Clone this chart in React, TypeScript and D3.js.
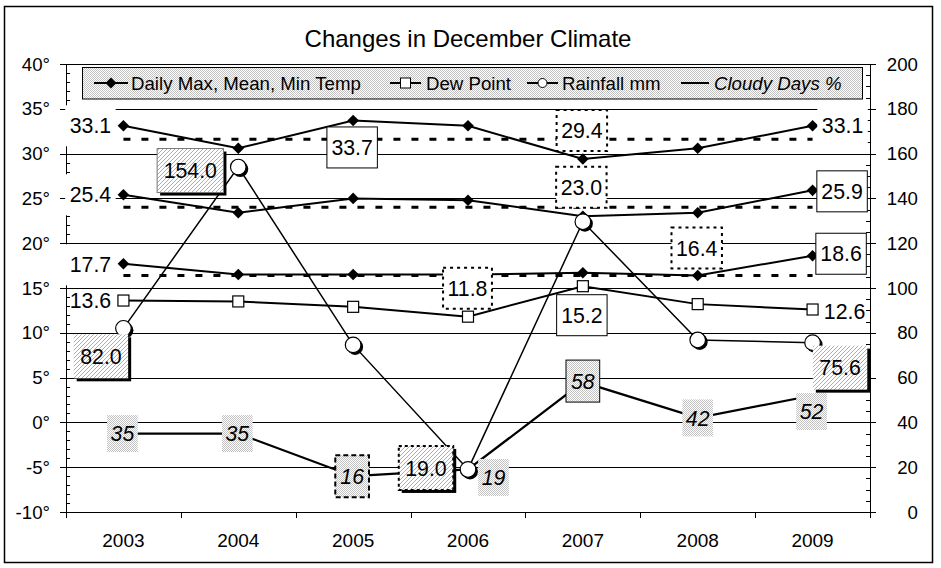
import React, { useEffect, useRef } from 'react';
import * as d3 from 'd3';

const years = ['2003', '2004', '2005', '2006', '2007', '2008', '2009'];
const maxTemp = [33.1, 30.6, 33.7, 33.1, 29.4, 30.6, 33.1];
const meanTemp = [25.4, 23.4, 25.0, 24.8, 23.0, 23.4, 25.9];
const minTemp = [17.7, 16.5, 16.5, 16.5, 16.7, 16.4, 18.6];
const dewPoint = [13.6, 13.5, 12.9, 11.8, 15.2, 13.2, 12.6];
const rainfall = [82.0, 154.0, 74.6, 19.0, 129.6, 76.8, 75.6];
const cloudyDays = [35, 35, 16, 19, 58, 42, 52];
const tempNormals = [31.6, 24.0, 16.4];

const tempTicks = [40, 35, 30, 25, 20, 15, 10, 5, 0, -5, -10];
const rightTicks = [200, 180, 160, 140, 120, 100, 80, 60, 40, 20, 0];
const legendNames = ['Daily Max, Mean, Min Temp', 'Dew Point', 'Rainfall mm', 'Cloudy Days %'];
const title = 'Changes in December Climate';

type Kind =
  | 'plain'
  | 'none'
  | 'solid'
  | 'dotted'
  | 'hatch'
  | 'hatchFramed'
  | 'hatchDotted'
  | 'gray'
  | 'grayDashed'
  | 'graySolid';

interface LabelSpec {
  s: 'max' | 'mean' | 'min' | 'dew' | 'rain' | 'cloudy';
  i: number;
  dx: number;
  dy: number;
  kind: Kind;
}

// where each data label sits relative to its point, and how it is boxed
const labelSpecs: LabelSpec[] = [
  { s: 'max', i: 0, dx: -33, dy: 0, kind: 'plain' },
  { s: 'max', i: 2, dx: -1, dy: 27, kind: 'solid' },
  { s: 'max', i: 4, dx: -1, dy: -28.5, kind: 'dotted' },
  { s: 'max', i: 6, dx: 30, dy: 0, kind: 'plain' },
  { s: 'mean', i: 0, dx: -33, dy: 0, kind: 'plain' },
  { s: 'mean', i: 4, dx: -1.5, dy: -29, kind: 'dotted' },
  { s: 'mean', i: 6, dx: 29.5, dy: 1, kind: 'solid' },
  { s: 'min', i: 0, dx: -33, dy: 1, kind: 'plain' },
  { s: 'min', i: 5, dx: -1, dy: -27.5, kind: 'dotted' },
  { s: 'min', i: 6, dx: 28.5, dy: -2, kind: 'solid' },
  { s: 'dew', i: 0, dx: -33, dy: 0, kind: 'none' },
  { s: 'dew', i: 3, dx: -0.5, dy: -28.5, kind: 'dotted' },
  { s: 'dew', i: 4, dx: -1, dy: 29, kind: 'solid' },
  { s: 'dew', i: 6, dx: 32, dy: 2, kind: 'none' },
  { s: 'rain', i: 0, dx: -22.5, dy: 28, kind: 'hatch' },
  { s: 'rain', i: 1, dx: -48, dy: 3.5, kind: 'hatchFramed' },
  { s: 'rain', i: 3, dx: -42, dy: -1.5, kind: 'hatchDotted' },
  { s: 'rain', i: 6, dx: 27.5, dy: 25, kind: 'hatch' },
  { s: 'cloudy', i: 0, dx: -1, dy: 0, kind: 'gray' },
  { s: 'cloudy', i: 1, dx: -1, dy: 0, kind: 'gray' },
  { s: 'cloudy', i: 2, dx: -1, dy: 0, kind: 'grayDashed' },
  { s: 'cloudy', i: 3, dx: 25.5, dy: 8, kind: 'gray' },
  { s: 'cloudy', i: 4, dx: 0, dy: -1, kind: 'graySolid' },
  { s: 'cloudy', i: 5, dx: 0, dy: 0, kind: 'gray' },
  { s: 'cloudy', i: 6, dx: -1, dy: 16, kind: 'gray' },
];

const FONT = '"Liberation Sans", Arial, sans-serif';

const App: React.FC = () => {
  const ref = useRef<SVGSVGElement>(null);

  useEffect(() => {
    const width = 941;
    const height = 568;
    const marginLeft = 66;
    const marginRight = 870;
    const marginTop = 64;
    const marginBottom = 512;

    const svg = d3.select(ref.current).attr('width', width).attr('height', height);
    svg.selectAll('*').remove();

    const defs = svg.append('defs');
    const stipple = defs
      .append('pattern')
      .attr('id', 'stipple')
      .attr('patternUnits', 'userSpaceOnUse')
      .attr('width', 2)
      .attr('height', 2);
    stipple.append('rect').attr('width', 2).attr('height', 2).attr('fill', '#fff');
    stipple
      .append('rect')
      .attr('width', 1)
      .attr('height', 1)
      .attr('fill', '#c2c2c2')
      .attr('shape-rendering', 'crispEdges');
    stipple
      .append('rect')
      .attr('x', 1)
      .attr('y', 1)
      .attr('width', 1)
      .attr('height', 1)
      .attr('fill', '#c2c2c2')
      .attr('shape-rendering', 'crispEdges');

    const hatch = defs
      .append('pattern')
      .attr('id', 'hatch')
      .attr('patternUnits', 'userSpaceOnUse')
      .attr('width', 4)
      .attr('height', 4);
    hatch.append('rect').attr('width', 4).attr('height', 4).attr('fill', '#fff');
    hatch
      .append('path')
      .attr('d', 'M0,4 L4,0 M-1,1 L1,-1 M3,5 L5,3')
      .attr('stroke', '#999')
      .attr('stroke-width', 0.8);

    // Scales
    const x = d3.scaleBand<string>().domain(years).range([marginLeft, marginRight]);
    const cx = (i: number) => x(years[i])! + x.bandwidth() / 2;
    const yL = d3.scaleLinear().domain([-10, 40]).range([marginBottom, marginTop]);
    const yR = d3.scaleLinear().domain([0, 200]).range([marginBottom, marginTop]);

    // outer frame
    svg
      .append('rect')
      .attr('x', 4.5)
      .attr('y', 6.5)
      .attr('width', 928)
      .attr('height', 556)
      .attr('fill', '#fff')
      .attr('stroke', '#000')
      .attr('stroke-width', 1.5);

    // gridlines
    svg
      .append('g')
      .selectAll('line')
      .data(tempTicks.filter((t) => t > -10))
      .join('line')
      .attr('x1', marginLeft)
      .attr('x2', marginRight)
      .attr('y1', (d) => Math.round(yL(d)) + 0.5)
      .attr('y2', (d) => Math.round(yL(d)) + 0.5)
      .attr('stroke', '#000')
      .attr('stroke-width', 1);

    // left axis
    const leftAxis = svg.append('g').attr('stroke', '#000').attr('stroke-width', 1);
    leftAxis
      .append('line')
      .attr('x1', marginLeft + 0.5)
      .attr('x2', marginLeft + 0.5)
      .attr('y1', marginTop)
      .attr('y2', marginBottom + 0.5);
    leftAxis
      .selectAll('.major')
      .data(tempTicks)
      .join('line')
      .attr('x1', marginLeft - 6)
      .attr('x2', marginLeft)
      .attr('y1', (d) => Math.round(yL(d)) + 0.5)
      .attr('y2', (d) => Math.round(yL(d)) + 0.5);
    leftAxis
      .selectAll('.minor')
      .data(d3.range(-10, 41))
      .join('line')
      .attr('x1', marginLeft)
      .attr('x2', marginLeft + 4)
      .attr('y1', (d) => Math.round(yL(d)) + 0.5)
      .attr('y2', (d) => Math.round(yL(d)) + 0.5);

    svg
      .append('g')
      .selectAll('text')
      .data(tempTicks)
      .join('text')
      .attr('x', 50)
      .attr('y', (d) => yL(d))
      .attr('dy', '0.35em')
      .attr('text-anchor', 'end')
      .attr('font-family', FONT)
      .attr('font-size', 18.67)
      .text((d) => `${d}°`);

    // right axis
    const rightAxis = svg.append('g').attr('stroke', '#000').attr('stroke-width', 1);
    rightAxis
      .append('line')
      .attr('x1', marginRight + 0.5)
      .attr('x2', marginRight + 0.5)
      .attr('y1', marginTop)
      .attr('y2', marginBottom + 0.5);
    rightAxis
      .selectAll('.major')
      .data(rightTicks)
      .join('line')
      .attr('x1', marginRight)
      .attr('x2', marginRight + 6)
      .attr('y1', (d) => Math.round(yR(d)) + 0.5)
      .attr('y2', (d) => Math.round(yR(d)) + 0.5);
    rightAxis
      .selectAll('.minor')
      .data(d3.range(0, 201, 5))
      .join('line')
      .attr('x1', marginRight - 4)
      .attr('x2', marginRight)
      .attr('y1', (d) => Math.round(yR(d)) + 0.5)
      .attr('y2', (d) => Math.round(yR(d)) + 0.5);

    svg
      .append('g')
      .selectAll('text')
      .data(rightTicks)
      .join('text')
      .attr('x', 918)
      .attr('y', (d) => yR(d))
      .attr('dy', '0.35em')
      .attr('text-anchor', 'end')
      .attr('font-family', FONT)
      .attr('font-size', 18.67)
      .text((d) => `${d}`);

    // bottom axis
    const bottom = svg.append('g').attr('stroke', '#000').attr('stroke-width', 1);
    bottom
      .append('line')
      .attr('x1', marginLeft)
      .attr('x2', marginRight + 1)
      .attr('y1', marginBottom + 0.5)
      .attr('y2', marginBottom + 0.5);
    bottom
      .selectAll('.tick')
      .data(d3.range(years.length + 1))
      .join('line')
      .attr('x1', (i) => Math.round(marginLeft + i * x.bandwidth()) + 0.5)
      .attr('x2', (i) => Math.round(marginLeft + i * x.bandwidth()) + 0.5)
      .attr('y1', marginBottom)
      .attr('y2', marginBottom + 6);

    svg
      .append('g')
      .selectAll('text')
      .data(years)
      .join('text')
      .attr('x', (_d, i) => cx(i))
      .attr('y', 547)
      .attr('text-anchor', 'middle')
      .attr('font-family', FONT)
      .attr('font-size', 19)
      .text((d) => d);

    // long-term reference lines for max / mean / min
    svg
      .append('g')
      .selectAll('line')
      .data(tempNormals)
      .join('line')
      .attr('x1', cx(0))
      .attr('x2', cx(years.length - 1))
      .attr('y1', (d) => yL(d))
      .attr('y2', (d) => yL(d))
      .attr('stroke', '#000')
      .attr('stroke-width', 3)
      .attr('stroke-dasharray', '7 11');

    const lineL = d3
      .line<number>()
      .x((_d, i) => cx(i))
      .y((d) => yL(d));
    const lineR = d3
      .line<number>()
      .x((_d, i) => cx(i))
      .y((d) => yR(d));

    const lines = svg.append('g').attr('fill', 'none').attr('stroke', '#000');
    lines.append('path').attr('d', lineR(cloudyDays)).attr('stroke-width', 2.2);
    lines.append('path').attr('d', lineR(rainfall)).attr('stroke-width', 1.5);
    [maxTemp, meanTemp, minTemp].forEach((s) => {
      lines.append('path').attr('d', lineL(s)).attr('stroke-width', 2);
    });
    lines.append('path').attr('d', lineL(dewPoint)).attr('stroke-width', 2);

    // markers
    const diamond = (r: number) => `M0,${-r}L${r},0L0,${r}L${-r},0Z`;
    const markers = svg.append('g');
    [maxTemp, meanTemp, minTemp].forEach((s) => {
      markers
        .append('g')
        .selectAll('path')
        .data(s)
        .join('path')
        .attr('transform', (d, i) => `translate(${cx(i)},${yL(d)})`)
        .attr('d', diamond(5.8))
        .attr('fill', '#000');
    });
    markers
      .append('g')
      .selectAll('rect')
      .data(dewPoint)
      .join('rect')
      .attr('x', (_d, i) => cx(i) - 5.5)
      .attr('y', (d) => yL(d) - 5.5)
      .attr('width', 11)
      .attr('height', 11)
      .attr('fill', '#fff')
      .attr('stroke', '#000')
      .attr('stroke-width', 1.2);
    const rainG = markers.append('g');
    rainG
      .selectAll('.shadow')
      .data(rainfall)
      .join('circle')
      .attr('cx', (_d, i) => cx(i) + 2)
      .attr('cy', (d) => yR(d) + 2)
      .attr('r', 8)
      .attr('fill', '#000');
    rainG
      .selectAll('.dot')
      .data(rainfall)
      .join('circle')
      .attr('cx', (_d, i) => cx(i))
      .attr('cy', (d) => yR(d))
      .attr('r', 7.8)
      .attr('fill', '#fff')
      .attr('stroke', '#000')
      .attr('stroke-width', 1.2);

    // data labels
    const seriesOf = {
      max: { v: maxTemp, y: yL },
      mean: { v: meanTemp, y: yL },
      min: { v: minTemp, y: yL },
      dew: { v: dewPoint, y: yL },
      rain: { v: rainfall, y: yR },
      cloudy: { v: cloudyDays, y: yR },
    };
    const labels = svg.append('g');
    labelSpecs.forEach((spec) => {
      const ser = seriesOf[spec.s];
      const val = ser.v[spec.i];
      const px = cx(spec.i) + spec.dx;
      const py = ser.y(val) + spec.dy;
      const isCloudy = spec.s === 'cloudy';
      const g = labels.append('g');
      const t = g
        .append('text')
        .attr('x', px)
        .attr('y', py)
        .attr('dy', '0.36em')
        .attr('text-anchor', 'middle')
        .attr('font-family', FONT)
        .attr('font-size', 21.3)
        .attr('font-style', isCloudy ? 'italic' : 'normal')
        .text(isCloudy ? `${val}` : val.toFixed(1));
      const tw = (t.node() as SVGTextElement).getComputedTextLength();

      let w = tw + 9;
      let h = 41;
      if (spec.kind.startsWith('hatch')) {
        w = tw + 13;
        h = 44;
      } else if (spec.kind === 'gray') {
        w = tw + 7;
        h = 37;
      } else if (spec.kind === 'grayDashed' || spec.kind === 'graySolid') {
        w = tw + 10;
        h = 42;
      }
      const bx = px - w / 2;
      const by = py - h / 2;

      if (spec.kind === 'none') return;
      if (spec.kind.startsWith('hatch')) {
        g.insert('rect', 'text')
          .attr('x', bx + 3)
          .attr('y', by + 3)
          .attr('width', w)
          .attr('height', h)
          .attr('fill', '#000');
      }
      const box = g
        .insert('rect', 'text')
        .attr('x', bx)
        .attr('y', by)
        .attr('width', w)
        .attr('height', h);
      switch (spec.kind) {
        case 'plain':
          box.attr('fill', '#fff');
          break;
        case 'solid':
          box.attr('fill', '#fff').attr('stroke', '#000').attr('stroke-width', 1);
          break;
        case 'dotted':
          box
            .attr('fill', '#fff')
            .attr('stroke', '#000')
            .attr('stroke-width', 2)
            .attr('stroke-dasharray', '3 4');
          break;
        case 'hatch':
          box.attr('fill', 'url(#hatch)');
          break;
        case 'hatchFramed':
          box.attr('fill', 'url(#hatch)').attr('stroke', '#777').attr('stroke-width', 1);
          break;
        case 'hatchDotted':
          box
            .attr('fill', 'url(#hatch)')
            .attr('stroke', '#000')
            .attr('stroke-width', 2)
            .attr('stroke-dasharray', '3 3');
          break;
        case 'gray':
          box.attr('fill', 'url(#stipple)');
          break;
        case 'grayDashed':
          box
            .attr('fill', 'url(#stipple)')
            .attr('stroke', '#000')
            .attr('stroke-width', 2)
            .attr('stroke-dasharray', '5 3');
          break;
        case 'graySolid':
          box.attr('fill', 'url(#stipple)').attr('stroke', '#000').attr('stroke-width', 1);
          break;
      }
    });

    // legend
    const legend = svg.append('g');
    legend
      .append('rect')
      .attr('x', 82.5)
      .attr('y', 67.5)
      .attr('width', 780)
      .attr('height', 31.5)
      .attr('fill', 'url(#stipple)')
      .attr('stroke', '#000')
      .attr('stroke-width', 1);
    const legendY = 83;
    const legendPos = [
      { l0: 94, l1: 128, tx: 131 },
      { l0: 390, l1: 421, tx: 426 },
      { l0: 527, l1: 558, tx: 562 },
      { l0: 681, l1: 709, tx: 714 },
    ];
    legendNames.forEach((name, k) => {
      const p = legendPos[k];
      const mid = (p.l0 + p.l1) / 2;
      legend
        .append('line')
        .attr('x1', p.l0)
        .attr('x2', p.l1)
        .attr('y1', legendY)
        .attr('y2', legendY)
        .attr('stroke', '#000')
        .attr('stroke-width', 2);
      if (k === 0) {
        legend
          .append('path')
          .attr('transform', `translate(${mid},${legendY})`)
          .attr('d', diamond(5.5))
          .attr('fill', '#000');
      } else if (k === 1) {
        legend
          .append('rect')
          .attr('x', mid - 5)
          .attr('y', legendY - 5)
          .attr('width', 10)
          .attr('height', 10)
          .attr('fill', '#fff')
          .attr('stroke', '#000');
      } else if (k === 2) {
        legend
          .append('circle')
          .attr('cx', mid)
          .attr('cy', legendY)
          .attr('r', 4.5)
          .attr('fill', '#fff')
          .attr('stroke', '#000');
      }
      legend
        .append('text')
        .attr('x', p.tx)
        .attr('y', legendY)
        .attr('dy', '0.36em')
        .attr('font-family', FONT)
        .attr('font-size', 18.67)
        .attr('font-style', k === 3 ? 'italic' : 'normal')
        .text(name);
    });

    // title
    svg
      .append('text')
      .attr('x', 468)
      .attr('y', 47)
      .attr('text-anchor', 'middle')
      .attr('font-family', FONT)
      .attr('font-size', 24)
      .text(title);

    return () => {
      svg.selectAll('*').remove();
    };
  }, []);

  return (
    <div style={{ position: 'absolute', left: 0, top: 0 }}>
      <svg ref={ref} style={{ display: 'block' }}></svg>
    </div>
  );
};

export default App;
